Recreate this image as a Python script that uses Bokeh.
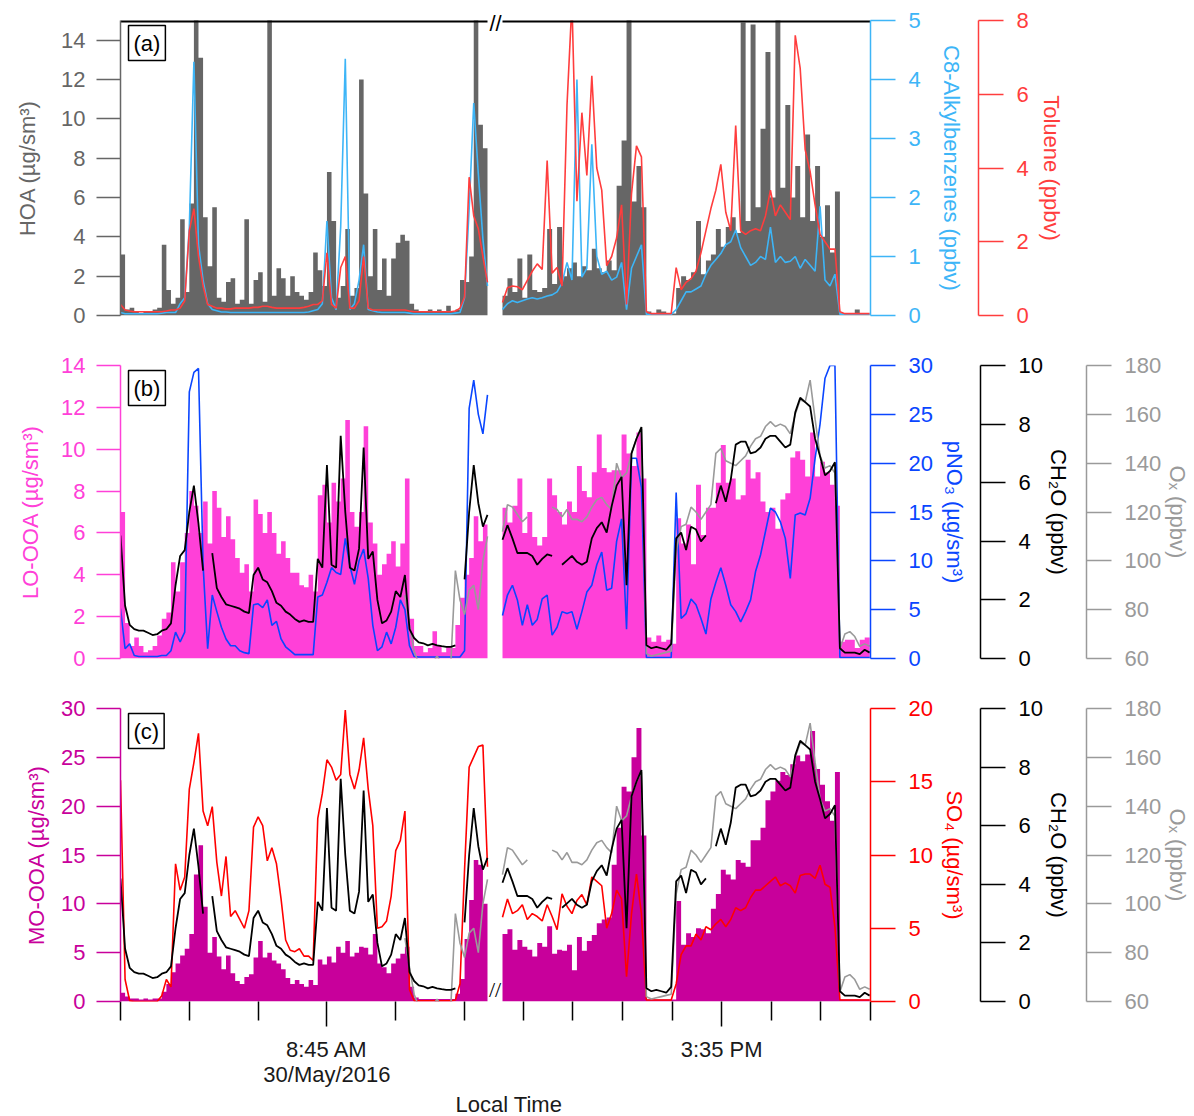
from bokeh.plotting import figure
from bokeh.models import Range1d, LinearAxis, FixedTicker, Label, Title
from bokeh.layouts import column
from bokeh.embed import file_html
from bokeh.resources import INLINE

nan = float("nan")

# ---------------- data (time = minutes after local midnight, 30 May 2016) ----------------
T_LEFT = [435, 437, 439, 441, 443, 445, 447, 449, 451, 453, 455, 457, 459, 461, 463, 465, 467, 469, 471, 473,
          475, 477, 479, 481, 483, 485, 487, 489, 491, 493, 495, 497, 499, 501, 503, 505, 507, 509, 511, 513,
          515, 517, 519, 521, 523, 525, 527, 529, 531, 533, 535, 537, 539, 541, 543, 545, 547, 549, 551, 553,
          555, 557, 559, 561, 563, 565, 567, 569, 571, 573, 575, 577, 579, 581, 583, 585, 587, 589, 591, 593, 595]
T_RIGHT = [670, 676, 682, 688, 694, 700, 706, 712, 718, 724, 730, 736, 742, 748, 754, 760, 766, 772, 778, 784,
           790, 796, 802, 808, 814, 820, 826, 832, 838, 844, 850, 856, 862, 868, 874, 880, 886, 892, 898, 904,
           910, 916, 922, 928, 934, 940, 946, 952, 958, 964, 970, 976, 982, 988, 994, 1000, 1006, 1012, 1018, 1024,
           1030, 1036, 1042, 1048, 1054, 1060, 1066, 1072, 1078, 1084, 1090, 1096, 1102, 1108, 1114]

HOA_L = [3.1, 0.3, 0.4, 0.2, 0.1, 0.2, 0.2, 0.3, 0.4, 3.6,
         1.3, 0.6, 0.9, 4.9, 1.2, 5.7, 20, 13.1, 5.0, 2.5,
         5.5, 0.9, 0.7, 1.7, 1.9, 0.6, 0.8, 4.9, 0.6, 1.8,
         2.2, 0.7, 20, 1.0, 2.4, 1.9, 1.0, 2.0, 1.2, 1.0,
         0.8, 1.2, 3.2, 2.3, 1.5, 7.3, 4.8, 0.9, 1.5, 4.4,
         1.0, 1.4, 12.0, 6.2, 2.0, 4.4, 1.3, 2.9, 1.0, 2.9,
         3.7, 4.1, 3.8, 0.6, 0.3, 0.2, 0.2, 0.3, 0.2, 0.3,
         0.2, 0.5, 0.2, 0.3, 1.8, 1.7, 3.0, 20, 9.7, 8.5, 5.6]
HOA_R = [1.0, 1.9, 1.2, 2.9, 0.9, 3.1, 1.3, 1.2, 1.4, 4.4,
         1.6, 4.5, 2.0, 2.4, 2.7, 2.0, 2.5, 2.3, 3.4, 2.4,
         2.2, 2.8, 2.3, 6.6, 8.9, 20, 5.8, 7.6, 5.5, 0.2,
         0.1, 0.3, 0.2, 0.1, 0.1, 1.4, 2.0, 1.8, 2.2, 4.8,
         2.1, 2.8, 3.1, 4.4, 3.5, 4.5, 5.0, 4.2, 14.9, 4.8,
         14.8, 5.5, 9.5, 13.4, 6.0, 20, 6.5, 10.7, 6.0, 7.6,
         5.0, 9.2, 4.8, 7.6, 4.0, 5.6, 3.2, 6.3, 0.1, 0.05,
         0.05, 0.3, 0.05, 0.05, 0.1]
C8_L = [0.05, 0.03, 0.03, 0.03, 0.03, 0.03, 0.03, 0.03, 0.03, 0.04,
        0.05, 0.05, 0.05, 0.2, 0.3, 1.5, 4.3, 1.2, 0.6, 0.2,
        0.1, 0.08, 0.06, 0.06, 0.05, 0.05, 0.05, 0.05, 0.05, 0.05,
        0.05, 0.05, 0.05, 0.05, 0.05, 0.05, 0.05, 0.05, 0.05, 0.05,
        0.05, 0.06, 0.08, 0.1, 0.2, 1.6, 0.3, 0.1, 1.5, 4.35,
        0.1, 0.2, 0.6, 1.2, 0.1, 0.08, 0.06, 0.05, 0.05, 0.05,
        0.05, 0.05, 0.05, 0.04, 0.03, 0.03, 0.03, 0.03, 0.03, 0.03,
        0.03, 0.03, 0.03, 0.04, 0.05, 0.3, 1.8, 3.6, 2.4, 1.3, 0.5]
C8_R = [0.1, 0.2, 0.25, 0.22, 0.25, 0.28, 0.3, 0.28, 0.3, 0.33,
        0.35, 0.4, 0.55, 0.9, 0.6, 4.0, 0.65, 0.8, 2.9, 1.0,
        0.7, 0.75, 0.6, 0.65, 0.9, 0.1, 0.8, 1.0, 1.2, 0.02,
        0.02, 0.02, 0.02, 0.02, 0.02, 0.1, 0.25, 0.4, 0.4, 0.45,
        0.5, 0.7, 0.85, 0.95, 1.05, 1.2, 1.25, 1.45, 1.15, 1.0,
        0.85, 0.9, 1.0, 0.95, 1.5, 0.9, 1.0, 0.9, 0.92, 1.0,
        0.8, 0.95, 0.85, 0.75, 1.85, 0.6, 0.5, 0.7, 0.02, 0.02,
        0.02, 0.02, 0.02, 0.02, 0.02]
TOL_L = [0.3, 0.15, 0.12, 0.1, 0.1, 0.1, 0.1, 0.1, 0.1, 0.1,
         0.12, 0.15, 0.15, 0.2, 0.4, 2.3, 2.9, 1.6, 0.8, 0.3,
         0.25, 0.2, 0.2, 0.18, 0.18, 0.2, 0.2, 0.2, 0.2, 0.22,
         0.22, 0.25, 0.25, 0.22, 0.2, 0.2, 0.2, 0.2, 0.2, 0.2,
         0.22, 0.25, 0.3, 0.3, 0.4, 1.7, 0.3, 0.2, 1.3, 1.6,
         0.2, 0.2, 0.4, 1.6, 0.2, 0.15, 0.15, 0.15, 0.15, 0.15,
         0.15, 0.15, 0.15, 0.12, 0.1, 0.1, 0.1, 0.1, 0.1, 0.1,
         0.1, 0.1, 0.1, 0.12, 0.2, 0.5, 3.75, 2.7, 2.35, 1.6, 0.9]
TOL_R = [0.35, 0.75, 0.8, 0.78, 0.7, 0.95, 1.2, 1.4, 1.25, 4.2,
         1.15, 1.3, 0.8, 5.7, 8.5, 3.1, 5.5, 3.8, 6.5, 4.0,
         3.4, 1.35, 1.6, 2.1, 3.0, 0.3, 3.3, 4.6, 4.3, 0.1,
         0.05, 0.05, 0.05, 0.05, 0.05, 1.3, 0.7, 0.9, 1.0, 1.2,
         1.7, 2.3, 2.9, 3.4, 4.1, 2.8, 2.3, 5.15, 2.3, 2.2,
         2.3, 2.35, 2.3, 2.7, 3.4, 2.7, 3.0, 2.8, 2.6, 7.6,
         6.7, 4.5, 3.9, 3.0, 2.2, 2.0, 1.8, 1.8, 0.1, 0.05,
         0.05, 0.05, 0.05, 0.05, 0.05]

LO_L = [7.0, 1.7, 0.6, 1.0, 0.6, 0.3, 0.4, 0.6, 1.1, 1.9,
        2.2, 4.6, 3.2, 4.6, 6.0, 8.0, 7.3, 6.0, 7.5, 5.5,
        8.0, 7.2, 5.8, 6.8, 5.7, 4.8, 4.1, 4.5, 3.2, 7.6,
        6.9, 6.0, 7.0, 6.0, 5.0, 5.6, 4.8, 4.1, 4.1, 3.5,
        3.4, 4.0, 3.2, 7.8, 8.3, 6.5, 8.4, 7.5, 8.6, 11.4,
        7.0, 6.3, 7.0, 11.1, 6.5, 5.5, 4.0, 4.5, 5.0, 5.6,
        4.4, 5.5, 8.6, 1.9, 0.6, 0.6, 0.3, 0.5, 1.3, 0.6,
        0.3, 0.6, 0.5, 1.6, 2.9, 4.0, 4.8, 6.8, 5.6, 6.4, 5.5]
LO_R = [7.2, 6.5, 7.3, 8.6, 6.0, 7.0, 5.8, 5.4, 5.8, 8.6,
        7.8, 7.0, 6.4, 7.5, 7.0, 9.2, 8.0, 7.7, 8.9, 10.7,
        9.1, 8.9, 9.0, 9.0, 10.7, 9.8, 9.2, 10.8, 8.6, 1.0,
        0.8, 1.1, 0.8, 0.9, 0.7, 6.7, 5.5, 6.4, 4.5, 8.3,
        5.9, 7.2, 7.2, 8.4, 10.2, 8.4, 8.6, 7.6, 7.8, 9.5,
        8.6, 8.9, 7.5, 7.0, 7.2, 6.2, 7.6, 7.9, 9.6, 9.9,
        9.5, 8.7, 10.8, 8.7, 9.4, 8.9, 8.3, 7.3, 0.8, 0.9,
        0.9, 0.5, 0.9, 1.0, 0.9]
NO3_L = [5.1, 1.0, 1.5, 0.3, 0.2, 0.2, 0.2, 0.2, 0.2, 0.3,
         0.3, 0.8, 2.7, 1.7, 2.7, 27.3, 29.3, 29.7, 9.6, 1.0,
         6.5, 4.8, 3.2, 2.0, 1.3, 1.3, 0.8, 0.6, 0.5, 5.5,
         5.6, 5.2, 6.0, 3.4, 3.8, 2.0, 1.2, 0.8, 0.4, 0.4,
         0.4, 0.4, 0.4, 6.3, 6.5, 7.8, 9.3, 8.8, 8.6, 12.3,
         9.5, 7.6, 10.0, 11.2, 8.2, 3.4, 0.8, 1.2, 2.7, 1.5,
         3.2, 6.0, 5.0, 1.3, 0.2, 0.15, 0.15, 0.15, 0.15, 0.15,
         0.15, 0.15, 0.15, 0.15, 0.15, 0.8, 25.6, 28.5, 25.0, 23.0, 27.0]
NO3_R = [4.4, 6.5, 7.5, 6.0, 3.4, 5.5, 3.4, 4.0, 6.1, 6.5,
         2.4, 3.2, 4.8, 4.6, 4.8, 3.0, 4.8, 6.8, 7.5, 9.6,
         10.9, 7.0, 7.2, 12.0, 14.3, 3.0, 20.5, 20.5, 17.5, 0.1,
         0.1, 0.1, 0.1, 0.1, 0.1, 17.0, 4.1, 4.6, 6.1, 5.5,
         4.1, 2.5, 6.1, 7.8, 9.3, 7.5, 5.5, 4.8, 3.75, 4.8,
         6.0, 8.9, 10.6, 13.0, 15.4, 15.0, 14.0, 12.3, 8.2, 14.7,
         14.9, 14.7, 16.4, 20.5, 24.0, 28.7, 30.0, 30.0, 0.1, 0.1,
         0.1, 0.1, 0.1, 0.1, 0.1]
CH2O_L = [4.2, 1.8, 1.15, 1.0, 0.95, 0.95, 0.88, 0.8, 0.83, 0.95,
          1.0, 1.2, 2.5, 3.5, 3.7, 5.0, 5.9, 4.6, 3.0, nan,
          3.6, 2.4, 2.1, 1.85, 1.8, 1.75, 1.7, 1.6, 1.55, 2.85,
          3.1, 2.7, 2.6, 2.3, 1.9, 1.8, 1.6, 1.5, 1.35, 1.25,
          1.3, 1.25, 1.25, 3.4, 3.1, 6.6, 3.2, 3.1, 7.6, 5.0,
          3.1, 3.0, 3.75, 7.2, 3.4, 3.65, 2.0, 1.2, 1.3, 1.6,
          2.3, 2.1, 2.85, 1.0, 0.7, 0.55, 0.52, 0.45, 0.5, 0.45,
          0.42, 0.4, 0.4, 0.45, nan, 2.7, 5.0, 6.6, 5.3, 4.5, 4.9]
CH2O_R = [4.05, 4.55, 4.1, 3.6, 3.6, 3.6, 3.5, 3.2, 3.4, 3.55,
          3.5, nan, 3.2, 3.35, 3.5, 3.3, 3.2, 3.3, 4.1, 4.45,
          4.65, 4.3, 5.2, 5.9, 6.2, 2.5, 7.0, 7.5, 7.9, 0.45,
          0.35, 0.4, 0.35, 0.3, 0.5, 4.1, 4.3, 3.7, 4.5, 4.4,
          4.0, 4.2, nan, 5.3, 5.9, 5.35, 6.1, 7.3, 7.4, 7.4,
          7.0, 7.05, 7.2, 7.5, 7.6, 7.6, 7.4, 7.2, 7.3, 8.4,
          8.9, 8.75, 8.6, 7.5, 6.9, 6.25, 6.4, 6.7, 0.35, 0.2,
          0.2, 0.2, 0.15, 0.3, 0.2]
OX_L = [nan] * 62 + [86, 74, 63, 58, 57, 57, 58, 61, 58, 57,
                     58, 96, 84, 78, 88, 90, 80, 100, 110]
OX_R = [112, 123, 122, 119, 116, 118, nan, nan, nan, nan,
        122, 121, 118, 121, 117, 117, 116, 118, 122, 125,
        126, 123, 121, 140, 134, 136, 144, 150, 154, 62,
        61, 61.5, 62, 62.5, 63, 104, 114, 115, 122, 120,
        117, 120, 123, 144, 146, 141, 140, 139, 141, 143,
        147, 150, 151, 155, 157, 155, 156, 155, 152, 160,
        166, 165, 174, 158, 143, 138, 139, 136, 64, 70,
        71, 69, 65, 66, 65]

MO_L = [0.9, 0.5, 0.3, 0.3, 0.2, 0.3, 0.2, 0.3, 0.3, 1.0,
        1.8, 3.0, 3.9, 4.7, 5.4, 6.9, 13.0, 16.0, 9.7, 5.0,
        6.6, 4.6, 3.3, 4.7, 2.9, 2.1, 1.8, 2.5, 2.8, 4.5,
        6.2, 4.5, 5.0, 4.2, 3.9, 3.3, 2.4, 1.8, 2.2, 1.8,
        1.5, 2.2, 1.7, 4.3, 3.8, 4.6, 4.0, 5.6, 5.0, 6.2,
        4.6, 5.0, 5.6, 5.5, 4.8, 6.9, 3.9, 3.5, 2.9, 3.9,
        4.4, 4.9, 5.6, 1.5, 0.4, 0.25, 0.25, 0.25, 0.25, 0.25,
        0.25, 0.25, 0.25, 0.8, 2.3, 6.4, 10.4, 14.5, 14.0, 10.0, 4.1]
MO_R = [6.9, 7.4, 5.3, 6.3, 5.6, 5.3, 4.6, 6.0, 5.6, 7.7,
        4.9, 5.3, 5.2, 5.8, 3.2, 6.6, 5.2, 6.2, 6.8, 8.0,
        8.4, 8.6, 14.0, 17.8, 22.0, 21.5, 25.0, 28.0, 17.0, 0.2,
        0.2, 0.2, 0.2, 0.2, 0.2, 10.3, 5.8, 7.0, 6.6, 7.5,
        7.4, 7.0, 9.5, 11.0, 13.5, 13.0, 12.5, 14.5, 14.2, 13.8,
        16.5, 16.5, 17.8, 20.6, 21.5, 22.6, 23.5, 23.2, 24.3, 25.2,
        24.6, 25.3, 27.7, 23.8, 22.2, 20.5, 18.5, 23.5, 0.2, 0.2,
        0.2, 0.2, 0.2, 0.2, 0.2]
SO4_L = [15.1, 1.5, 0.05, 0.0, 0.0, 0.0, 0.0, 0.0, 0.0, 0.4,
         1.5, 1.0, 9.4, 7.6, 8.5, 14.5, 16.3, 18.3, 13.0, 12.0,
         13.3, 9.5, 7.2, 9.9, 5.8, 6.2, 5.6, 5.0, 6.2, 11.9,
         12.6, 12.0, 9.6, 10.5, 9.4, 7.0, 4.2, 3.5, 3.4, 3.6,
         3.1, 3.1, 2.8, 12.5, 14.2, 16.5, 16.0, 15.1, 15.5, 19.9,
         15.5, 14.5, 15.8, 18.0, 14.5, 12.0, 5.0, 5.1, 5.5, 7.2,
         10.3, 11.0, 13.0, 0.8, 0.05, 0.05, 0.05, 0.05, 0.05, 0.05,
         0.05, 0.05, 0.05, 0.1, 1.2, 9.0, 16.0, 16.7, 17.4, 17.5, 9.2]
SO4_R = [5.75, 7.0, 6.0, 6.2, 6.6, 5.6, 6.0, 5.8, 5.5, 6.6,
         5.8, 4.9, 7.35, 6.5, 6.0, 6.9, 7.3, 6.6, 8.5, 8.2,
         7.9, 5.0, 6.0, 7.6, 7.0, 1.7, 6.0, 8.7, 6.0, 0.1,
         0.1, 0.1, 0.1, 0.1, 0.1, 1.2, 3.2, 3.8, 3.8, 4.6,
         4.2, 5.1, 4.9, 5.3, 5.6, 5.1, 5.6, 6.4, 6.2, 6.4,
         7.1, 7.6, 7.6, 7.9, 8.2, 8.5, 7.9, 8.1, 7.9, 7.4,
         8.6, 8.7, 8.7, 8.4, 9.3, 8.0, 7.8, 5.1, 0.1, 0.1,
         0.1, 0.1, 0.1, 0.1, 0.1]

# ticks / labels
HOA_TICKS = [0, 2, 4, 6, 8, 10, 12, 14]
C8_TICKS = [0, 1, 2, 3, 4, 5]
TOL_TICKS = [0, 2, 4, 6, 8]
LO_TICKS = [0, 2, 4, 6, 8, 10, 12, 14]
NO3_TICKS = [0, 5, 10, 15, 20, 25, 30]
CH2O_TICKS = [0, 2, 4, 6, 8, 10]
OX_TICKS = [60, 80, 100, 120, 140, 160, 180]
MO_TICKS = [0, 5, 10, 15, 20, 25, 30]
SO4_TICKS = [0, 5, 10, 15, 20]
TIME_TICKS_LEFT = [435, 465, 495, 525, 555, 585]
TIME_TICKS_RIGHT = [695, 755, 815, 875, 935, 995, 1055, 1115]
TIME_LABEL_LEFT = (525, "8:45 AM\n30/May/2016")
TIME_LABEL_RIGHT = (935, "3:35 PM")

# ---------------- style ----------------
FONT = "Liberation Sans"
FS = "22px"
C_HOA = "#666666"
C_C8 = "#3DB5F7"
C_TOL = "#FF3D3D"
C_LO = "#FF40D8"
C_NO3 = "#0A46FF"
C_CH2O = "#000000"
C_OX = "#9A9A9A"
C_MO = "#C8009B"
C_SO4 = "#FF0000"
C_TXT = "#1a1a1a"

FRAME_W = 750
SEG_L_PX = 367
SEG_R_PX = 368
L0 = TIME_TICKS_LEFT[0]
L1 = L0 + (T_LEFT[-1] - L0) * FRAME_W / SEG_L_PX
R1 = TIME_TICKS_RIGHT[-1]
R0 = R1 - (R1 - T_RIGHT[0]) * FRAME_W / SEG_R_PX


def r2l(t):
    return L0 + (t - R0) * (L1 - L0) / (R1 - R0)


GAP_MID = 0.5 * (T_LEFT[-1] + r2l(T_RIGHT[0]))


def panel(ymin, ymax, frame_h, top, bottom, extra):
    p = figure(frame_width=FRAME_W, frame_height=frame_h,
               min_border_left=120, min_border_right=0, min_border_top=top, min_border_bottom=bottom,
               x_range=Range1d(L0, L1), y_range=Range1d(ymin, ymax),
               x_axis_location=None, y_axis_location=None,
               toolbar_location=None, output_backend="svg",
               outline_line_color=None, background_fill_color="white", border_fill_color="white")
    p.extra_x_ranges = {"right": Range1d(R0, R1)}
    p.extra_y_ranges = {k: Range1d(a, b) for k, (a, b) in extra.items()}
    p.xgrid.grid_line_color = None
    p.ygrid.grid_line_color = None
    return p


def yaxis(p, side, rng, ticks, color, title, tick_out=25, lab_off=13, title_off=8):
    ax = LinearAxis(y_range_name=rng, ticker=FixedTicker(ticks=ticks), axis_label=title,
                    axis_line_color=color, axis_line_width=1.5,
                    major_tick_line_color=color, major_tick_line_width=1.5,
                    major_tick_out=tick_out, major_tick_in=0, minor_tick_line_color=None,
                    major_label_text_color=color, major_label_text_font=FONT,
                    major_label_text_font_size=FS, major_label_standoff=lab_off,
                    axis_label_text_color=color, axis_label_text_font=FONT,
                    axis_label_text_font_size=FS, axis_label_text_font_style="normal",
                    axis_label_standoff=title_off)
    p.add_layout(ax, side)


def spacer(p, side, px, rng, at):
    # invisible axis that only reserves horizontal room between two stacked axes
    ax = LinearAxis(y_range_name=rng, ticker=FixedTicker(ticks=[at]), major_label_overrides={at: ""},
                    major_tick_out=px, major_tick_in=0,
                    axis_line_color=None, major_tick_line_color=None, minor_tick_line_color=None,
                    major_label_standoff=0, major_label_text_color=None)
    p.add_layout(ax, side)


def fill(p, xs, ys, color, xr="default"):
    p.varea_step(x=xs, y1=0, y2=ys, step_mode="after", fill_color=color, x_range_name=xr)


def line(p, xs, ys, color, yr, xr="default", w=1.6):
    p.line(xs, ys, line_color=color, line_width=w, x_range_name=xr, y_range_name=yr)


def tag(p, text, ytop):
    p.add_layout(Label(x=L0, y=ytop, x_offset=8, y_offset=-5, text=text,
                       text_align="left", text_baseline="top", text_font=FONT, text_font_size=FS,
                       text_color="black", border_line_color="black", border_line_width=1.5,
                       background_fill_color="white", padding=5))


# ---------------- panel (a) ----------------
pa = panel(0, 15, 295, 20, 25, {"c8": (0, 5), "tol": (0, 8)})
# break mark "//" above the broken top frame line
brk_a = LinearAxis(ticker=FixedTicker(ticks=[]), axis_line_color=None, major_tick_out=0,
                   major_tick_line_color=None, minor_tick_line_color=None,
                   axis_label="//", axis_label_standoff=-15, axis_label_text_font=FONT,
                   axis_label_text_font_size=FS, axis_label_text_font_style="normal",
                   axis_label_text_color="black")
pa.add_layout(brk_a, "above")
yaxis(pa, "left", "default", HOA_TICKS, C_HOA, "HOA (µg/sm³)", tick_out=24, lab_off=11, title_off=18)
yaxis(pa, "right", "c8", C8_TICKS, C_C8, "C8-Alkylbenzenes (ppbv)", title_off=15)
spacer(pa, "right", 12, "c8", 1)
yaxis(pa, "right", "tol", TOL_TICKS, C_TOL, "Toluene (ppbv)", title_off=7)
fill(pa, T_LEFT, HOA_L, C_HOA)
fill(pa, T_RIGHT, HOA_R, C_HOA, xr="right")
line(pa, T_LEFT, C8_L, C_C8, "c8")
line(pa, T_RIGHT, C8_R, C_C8, "c8", xr="right")
line(pa, T_LEFT, TOL_L, C_TOL, "tol")
line(pa, T_RIGHT, TOL_R, C_TOL, "tol", xr="right")
# broken top frame line (drawn on the frame edge, inner half visible)
pa.segment(x0=[L0], x1=[T_LEFT[-1]], y0=[15], y1=[15], line_color="black", line_width=4)
pa.segment(x0=[T_RIGHT[0]], x1=[R1], y0=[15], y1=[15], line_color="black", line_width=4,
           x_range_name="right")
tag(pa, "(a)", 15)

# ---------------- panel (b) ----------------
pb = panel(0, 14, 293, 25, 25, {"no3": (0, 30), "ch2o": (0, 10), "ox": (60, 180)})
yaxis(pb, "left", "default", LO_TICKS, C_LO, "LO-OOA (µg/sm³)", tick_out=24, lab_off=11, title_off=15)
yaxis(pb, "right", "no3", NO3_TICKS, C_NO3, "pNO₃ (µg/sm³)", title_off=6)
spacer(pb, "right", 11, "no3", 5)
yaxis(pb, "right", "ch2o", CH2O_TICKS, C_CH2O, "CH₂O (ppbv)", title_off=0)
spacer(pb, "right", 13, "ch2o", 2)
yaxis(pb, "right", "ox", OX_TICKS, C_OX, "Oₓ (ppbv)", lab_off=13, title_off=1)
fill(pb, T_LEFT, LO_L, C_LO)
fill(pb, T_RIGHT, LO_R, C_LO, xr="right")
line(pb, T_LEFT, NO3_L, C_NO3, "no3")
line(pb, T_RIGHT, NO3_R, C_NO3, "no3", xr="right")
line(pb, T_LEFT, OX_L, C_OX, "ox")
line(pb, T_RIGHT, OX_R, C_OX, "ox", xr="right")
line(pb, T_LEFT, CH2O_L, C_CH2O, "ch2o", w=1.8)
line(pb, T_RIGHT, CH2O_R, C_CH2O, "ch2o", xr="right", w=1.8)
tag(pb, "(b)", 14)

# ---------------- panel (c) ----------------
pc = panel(0, 30, 293, 25, 115, {"so4": (0, 20), "ch2o": (0, 10), "ox": (60, 180)})
yaxis(pc, "left", "default", MO_TICKS, C_MO, "MO-OOA (µg/sm³)", tick_out=24, lab_off=11, title_off=9)
yaxis(pc, "right", "so4", SO4_TICKS, C_SO4, "SO₄ (µg/sm³)", title_off=6)
spacer(pc, "right", 11, "so4", 5)
yaxis(pc, "right", "ch2o", CH2O_TICKS, C_CH2O, "CH₂O (ppbv)", title_off=0)
spacer(pc, "right", 13, "ch2o", 2)
yaxis(pc, "right", "ox", OX_TICKS, C_OX, "Oₓ (ppbv)", lab_off=13, title_off=1)
fill(pc, T_LEFT, MO_L, C_MO)
fill(pc, T_RIGHT, MO_R, C_MO, xr="right")
line(pc, T_LEFT, SO4_L, C_SO4, "so4")
line(pc, T_RIGHT, SO4_R, C_SO4, "so4", xr="right")
line(pc, T_LEFT, OX_L, C_OX, "ox")
line(pc, T_RIGHT, OX_R, C_OX, "ox", xr="right")
line(pc, T_LEFT, CH2O_L, C_CH2O, "ch2o", w=1.8)
line(pc, T_RIGHT, CH2O_R, C_CH2O, "ch2o", xr="right", w=1.8)
tag(pc, "(c)", 30)
pc.text(x=[GAP_MID], y=[0], text=["//"], text_align="center", text_baseline="bottom",
        text_font=FONT, text_font_size=FS, text_color="black")

# time axis (both segments share one axis line; right-segment ticks mapped onto the left scale)
maj_l = round(TIME_LABEL_LEFT[0], 6)
maj_r = round(r2l(TIME_LABEL_RIGHT[0]), 6)
minor = [t for t in TIME_TICKS_LEFT if t != TIME_LABEL_LEFT[0]]
minor += [min(round(r2l(t), 6), L1) for t in TIME_TICKS_RIGHT if t != TIME_LABEL_RIGHT[0]]
xax = LinearAxis(ticker=FixedTicker(ticks=[maj_l, maj_r], minor_ticks=minor),
                 major_label_overrides={maj_l: TIME_LABEL_LEFT[1], maj_r: TIME_LABEL_RIGHT[1]},
                 axis_line_color=None,
                 major_tick_line_color="black", major_tick_line_width=1.5, major_tick_out=25, major_tick_in=0,
                 minor_tick_line_color="black", minor_tick_line_width=1.5, minor_tick_out=19, minor_tick_in=0,
                 major_label_standoff=10, major_label_text_font=FONT, major_label_text_font_size=FS,
                 major_label_text_line_height=1.0, major_label_text_color=C_TXT)
pc.add_layout(xax, "below")
pc.add_layout(Title(text="Local Time", align="left", offset=335, standoff=0, text_font=FONT,
                    text_font_size=FS, text_font_style="normal", text_color=C_TXT), "below")

layout = column(pa, pb, pc, spacing=0)
open("out.html", "w").write(file_html(layout, INLINE))
